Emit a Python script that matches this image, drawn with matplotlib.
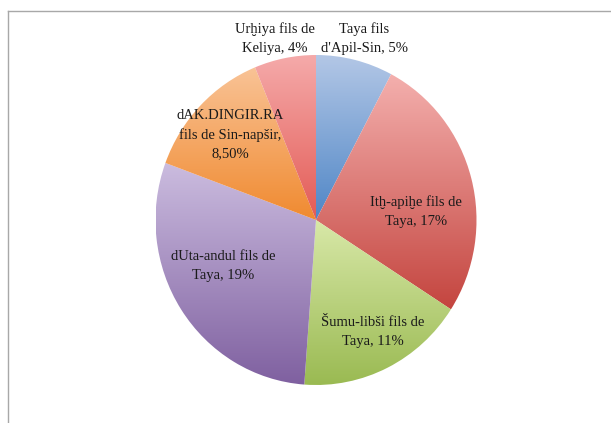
import numpy as np
import matplotlib
matplotlib.use("Agg")
import matplotlib.pyplot as plt
from matplotlib.colors import LinearSegmentedColormap
from matplotlib.lines import Line2D

plt.rcParams['font.family'] = ['Liberation Serif', 'DejaVu Serif']

# Données (pourcentages affichés)
noms = ["Taya fils\nd'Apil-Sin", "Itḫ-apiḫe fils de\nTaya", "Šumu-libši fils de\nTaya",
        "dUta-andul fils de\nTaya", "dAK.DINGIR.RA\nfils de Sin-napšir,", "Urḫiya fils de\nKeliya"]
valeurs = [5, 17, 11, 19, 8.5, 4]
etiquettes = ["5%", "17%", "11%", "19%", "8,50%", "4%"]

# couleurs haut / bas du dégradé
haut = ["#b3c7e6", "#f4b0ae", "#d8e8a8", "#cbbcdf", "#f9c396", "#f5aaaa"]
bas = ["#4f86c6", "#c4453f", "#9aba52", "#7f60a0", "#f08a30", "#e35b55"]

# position des étiquettes (unités du rayon)
pos_etiq = [(0.30, 1.10), (0.623, 0.052), (0.355, -0.679),
            (-0.579, -0.279), (-0.536, 0.515), (-0.255, 1.10)]

fig = plt.figure(figsize=(6.11, 4.23), dpi=100)
ax = fig.add_axes([155.5/611, 1-385/423, 321/611, 330/423])

wedges, _ = ax.pie(valeurs, startangle=90, counterclock=False, radius=1,
                   wedgeprops=dict(linewidth=0))

for w, h, b in zip(wedges, haut, bas):
    ext = w.get_path().get_extents()
    cmap = LinearSegmentedColormap.from_list("g", [b, h])
    grad = np.linspace(0, 1, 256).reshape(-1, 1)
    im = ax.imshow(grad, cmap=cmap, origin="lower", aspect="auto",
                   extent=[ext.x0, ext.x1, ext.y0, ext.y1], interpolation="bilinear")
    im.set_clip_path(w)
    w.set_facecolor("none")

for nom, et, (x, y) in zip(noms, etiquettes, pos_etiq):
    if et == "8,50%":
        txt = nom + "\n" + et
    else:
        txt = nom + ", " + et
    ax.text(x, y, txt, ha="center", va="center", fontsize=10.5,
            color="#1a1a1a", linespacing=1.55)

ax.set_xlim(-1, 1)
ax.set_ylim(-1, 1)
ax.set_aspect("auto")
ax.axis("off")

# cadre de la zone du graphique
fig.add_artist(Line2D([8/611, 1], [1-11/423, 1-11/423], color="#a8a8a8", lw=1.0))
fig.add_artist(Line2D([8/611, 8/611], [0, 1-11/423], color="#a8a8a8", lw=1.0))

fig.savefig("out.png", dpi=100)
